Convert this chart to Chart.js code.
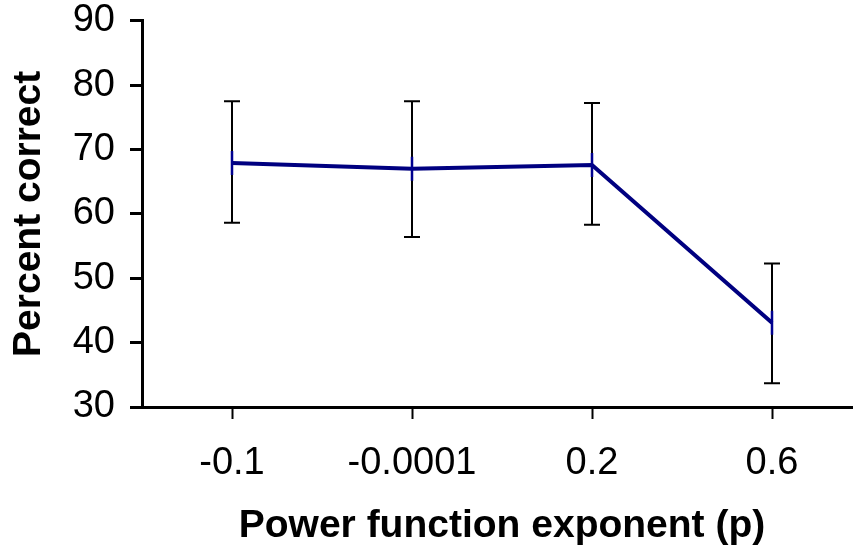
<!DOCTYPE html>
<html><head><meta charset="utf-8">
<script src="https://cdn.jsdelivr.net/npm/chart.js@4"></script>
<style>
html,body{margin:0;padding:0;overflow:hidden;background:#fff;width:853px;height:555px}
canvas{display:block}
</style></head>
<body><canvas id="c" width="862" height="555"></canvas>
<script>
const categories = ['-0.1', '-0.0001', '0.2', '0.6'];
const percentCorrect = [67.9, 67.0, 67.6, 43.1];
const errorHigh = [77.5, 77.5, 77.2, 52.3];
const errorLow = [58.6, 56.4, 58.3, 33.7];
const yMin = 30, yMax = 90, yStep = 10;
const xTitle = 'Power function exponent (p)';
const yTitle = 'Percent correct';

const FONT = "'Liberation Sans', Arial, Helvetica, sans-serif";

const errorBars = {
  id: 'errorBars',
  beforeDatasetsDraw(chart) {
    const {ctx, scales: {x, y}} = chart;
    ctx.save();
    ctx.strokeStyle = '#000';
    ctx.lineWidth = 2;
    categories.forEach((c, i) => {
      const px = x.getPixelForValue(i);
      const top = y.getPixelForValue(errorHigh[i]);
      const bot = y.getPixelForValue(errorLow[i]);
      ctx.beginPath();
      ctx.moveTo(px, top); ctx.lineTo(px, bot);
      ctx.moveTo(px - 8, top); ctx.lineTo(px + 8, top);
      ctx.moveTo(px - 8, bot); ctx.lineTo(px + 8, bot);
      ctx.stroke();
    });
    ctx.restore();
  }
};

new Chart(document.getElementById('c'), {
  type: 'line',
  data: {
    labels: categories,
    datasets: [{
      data: percentCorrect,
      borderColor: '#000080',
      borderWidth: 4,
      tension: 0,
      pointStyle: 'line',
      rotation: 90,
      pointRadius: 12,
      pointHoverRadius: 12,
      pointBorderWidth: 2.5,
      pointBorderColor: '#00008f',
      pointBackgroundColor: '#00008f'
    }]
  },
  options: {
    responsive: false,
    animation: false,
    events: [],
    layout: {autoPadding: false, padding: {top: 0, left: 0, right: 0, bottom: 0}},
    plugins: {legend: {display: false}, tooltip: {enabled: false}},
    scales: {
      x: {
        type: 'category',
        offset: true,
        grid: {display: true, offset: false, drawOnChartArea: false, drawTicks: true,
               tickLength: 12, tickWidth: 2, tickColor: '#000'},
        border: {display: true, color: '#000', width: 3},
        ticks: {color: '#000', font: {family: FONT, size: 38}, padding: 22, maxRotation: 0, autoSkip: false},
        title: {display: true, text: xTitle, color: '#000',
                font: {family: FONT, size: 39, weight: 'bold'}, padding: {top: 0, bottom: 5}},
        afterFit(scale) { scale.height = 148; scale.paddingLeft = 0; scale.paddingRight = 0; }
      },
      y: {
        min: yMin, max: yMax,
        grid: {display: true, drawOnChartArea: false, drawTicks: true,
               tickLength: 12, tickWidth: 3, tickColor: '#000'},
        border: {display: true, color: '#000', width: 3},
        ticks: {stepSize: yStep, color: '#000', font: {family: FONT, size: 38, lineHeight: 0.3}, padding: 15},
        title: {display: true, text: yTitle, color: '#000',
                font: {family: FONT, size: 39, weight: 'bold'}, padding: {top: 6, bottom: 0}},
        afterFit(scale) { scale.width = 142; }
      }
    }
  },
  plugins: [errorBars]
});
</script>
</body></html>
